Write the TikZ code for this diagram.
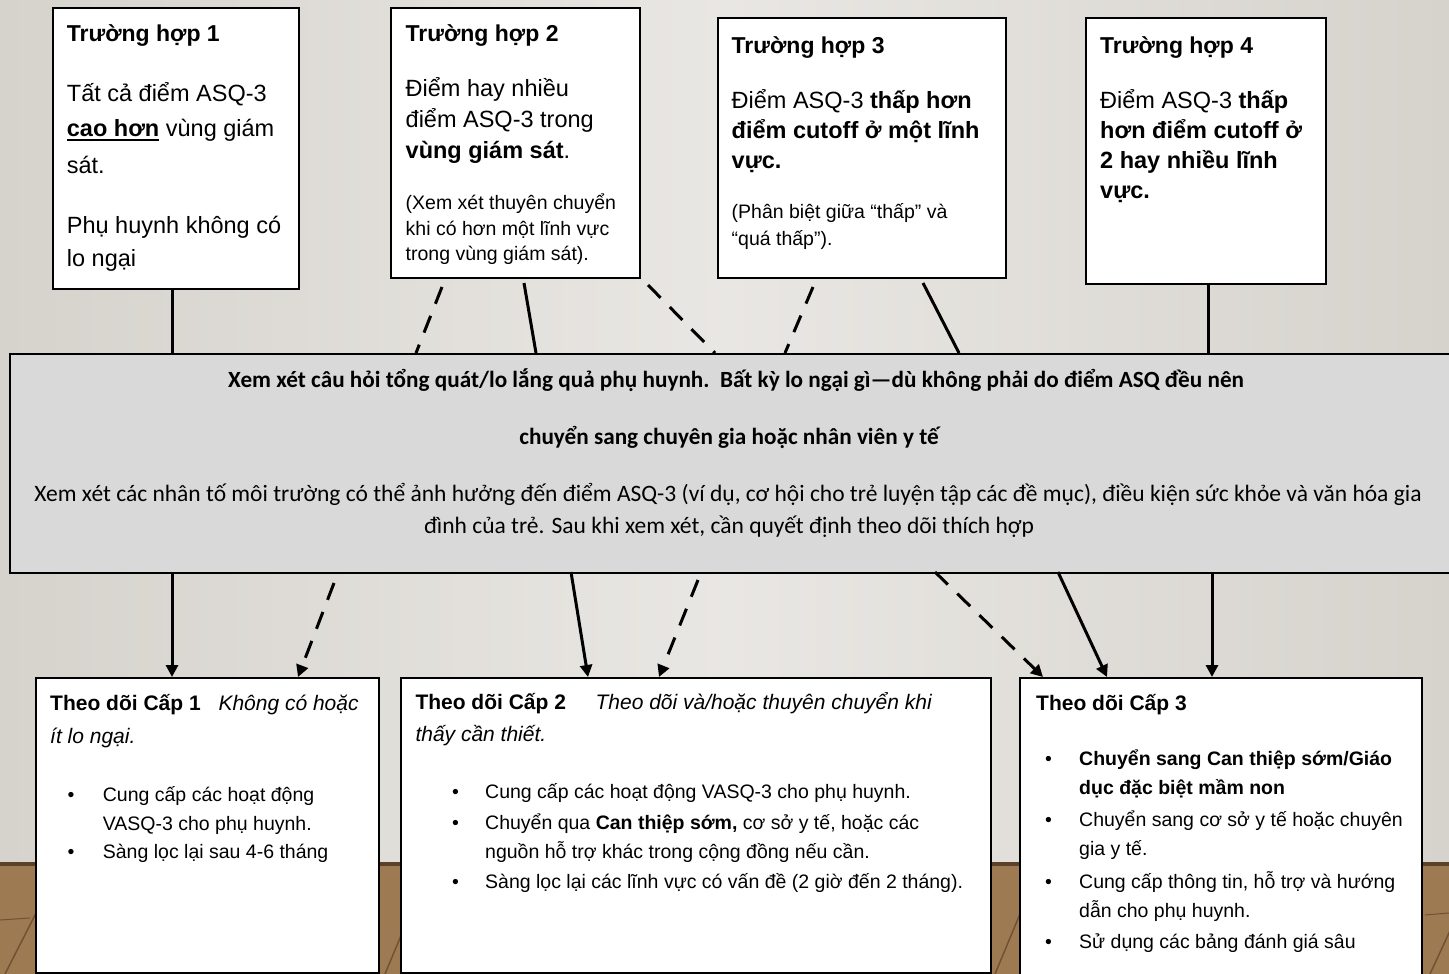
\documentclass[tikz,border=0pt]{standalone}
\usepackage{fontspec}
\setmainfont{Liberation Sans}
\newfontfamily\calibri{Carlito}
\newcommand\myul[1]{\setbox0\hbox{#1}\rlap{\rule[-3.8pt]{\wd0}{1.9pt}}\box0\relax}
\usetikzlibrary{arrows.meta}
\definecolor{wallmid}{RGB}{233,231,227}
\definecolor{walledge}{RGB}{214,211,205}
\definecolor{floorc}{RGB}{158,122,82}
\definecolor{floord}{RGB}{112,82,52}
\definecolor{midgrey}{RGB}{217,217,217}
\tikzset{
  box/.style={draw=black, line width=1.6pt, fill=white, anchor=north west, inner sep=0pt},
  tx/.style={anchor=base west, inner sep=0pt},
  ttl/.style={tx, font=\fontsize{23}{27}\selectfont\bfseries},
  body/.style={tx, font=\fontsize{23.5}{28}\selectfont},
  small/.style={tx, font=\fontsize{19.5}{23}\selectfont},
  lvl/.style={tx, font=\fontsize{21}{25}\selectfont},
  ctr/.style={anchor=base, inner sep=0pt, font=\calibri\fontsize{23.5}{27}\selectfont},
  ctrb/.style={anchor=base, inner sep=0pt, font=\calibri\fontsize{23.2}{27}\selectfont\bfseries},
  solidc/.style={line width=3pt},
  dashc/.style={line width=3pt, dash pattern=on 18pt off 13pt},
  arr/.style={-{Triangle[length=12pt,width=12pt]}}
}
\begin{document}
\begin{tikzpicture}[x=1pt,y=-1pt]
\useasboundingbox (0,0) rectangle (1449,974);
\clip (0,0) rectangle (1449,974);
% background
\shade[left color=walledge, right color=walledge, middle color=wallmid] (0,0) rectangle (1449,863);
\fill[floorc] (0,862) rectangle (1449,974);
\fill[floord!80!black] (0,862) rectangle (1449,866);
\foreach \a/\b in {5/60, 90/150, 385/430, 995/1040, 1430/1480}{
  \draw[floord, line width=1.5pt] (\a,974) -- (\b,866);
}
\draw[floord, line width=1pt] (0,920) -- (30,918);
\draw[floord, line width=1pt] (1425,915) -- (1449,913);

% top boxes
\node[box, minimum width=246pt, minimum height=281pt] (c1) at (52,7) {};
\node[box, minimum width=249pt, minimum height=270pt] (c2) at (390,7) {};
\node[box, minimum width=288pt, minimum height=260pt] (c3) at (717,17) {};
\node[box, minimum width=240pt, minimum height=266pt] (c4) at (1085,17) {};

% central box
\node[box, fill=midgrey, line width=2.4pt, minimum width=1470pt, minimum height=219pt] (mid) at (9,353) {};

% bottom boxes
\node[box, minimum width=343pt, minimum height=295pt] (l1) at (35,677) {};
\node[box, minimum width=590pt, minimum height=295pt] (l2) at (400,677) {};
\node[box, minimum width=402pt, minimum height=320pt] (l3) at (1019,677) {};

% connector end points
\coordinate (a1s) at (172,288); \coordinate (a1e) at (172,353);
\coordinate (a2s) at (442,287); \coordinate (a2e) at (416,353);
\coordinate (a3s) at (524,283); \coordinate (a3e) at (536,353);
\coordinate (a4s) at (648,285); \coordinate (a4e) at (715,353);
\coordinate (a5s) at (813,287); \coordinate (a5e) at (785,353);
\coordinate (a6s) at (923,283); \coordinate (a6e) at (959,353);
\coordinate (a7s) at (1208,283); \coordinate (a7e) at (1208,353);
\draw[solidc] (a1s) -- (a1e);
\draw[dashc] (a2s) -- (a2e);
\draw[solidc] (a3s) -- (a3e);
\draw[dashc] (a4s) -- (a4e);
\draw[dashc] (a5s) -- (a5e);
\draw[solidc] (a6s) -- (a6e);
\draw[solidc] (a7s) -- (a7e);

\coordinate (b1s) at (172,572); \coordinate (b1e) at (172,677);
\coordinate (b2s) at (334,583); \coordinate (b2e) at (298,677);
\coordinate (b3s) at (571,572); \coordinate (b3e) at (588,677);
\coordinate (b4s) at (698,580); \coordinate (b4e) at (659,677);
\coordinate (b5s) at (935,572); \coordinate (b5e) at (1043,677);
\coordinate (b6s) at (1058,572); \coordinate (b6e) at (1107,677);
\coordinate (b7s) at (1212,572); \coordinate (b7e) at (1212,677);
\draw[solidc, arr] (b1s) -- (b1e);
\draw[dashc, arr] (b2s) -- (b2e);
\draw[solidc, arr] (b3s) -- (b3e);
\draw[dashc, arr] (b4s) -- (b4e);
\draw[dashc, arr] (b5s) -- (b5e);
\draw[solidc, arr] (b6s) -- (b6e);
\draw[solidc, arr] (b7s) -- (b7e);

% Case 1 text
\node[ttl] (c1t) at (66.7,41.7) {Trường hợp 1};
\node[body] (c1a) at (66.7,101.7) {Tất cả điểm ASQ-3};
\node[body] (c1b) at (66.7,136.7) {\myul{\textbf{cao hơn}} vùng giám};
\node[body] (c1c) at (66.7,173.3) {sát.};
\node[body] (c1d) at (66.7,233.3) {Phụ huynh không có};
\node[body] (c1e) at (66.7,266.7) {lo ngại};

% Case 2 text
\node[ttl] (c2t) at (405.5,41.7) {Trường hợp 2};
\node[body] (c2a) at (405.5,96.7) {Điểm hay nhiều};
\node[body] (c2b) at (405.5,127.7) {điểm ASQ-3 trong};
\node[body] (c2c) at (405.5,158.3) {\textbf{vùng giám sát}.};
\node[small] (c2d) at (405.5,209.3) {(Xem xét thuyên chuyển};
\node[small] (c2e) at (405.5,235) {khi có hơn một lĩnh vực};
\node[small] (c2f) at (405.5,260) {trong vùng giám sát).};

% Case 3 text
\node[ttl] (c3t) at (731.5,53.3) {Trường hợp 3};
\node[body] (c3a) at (731.5,108.3) {Điểm ASQ-3 \textbf{thấp hơn}};
\node[body] (c3b) at (731.5,138.3) {\textbf{điểm cutoff ở một lĩnh}};
\node[body] (c3c) at (731.5,168.3) {\textbf{vực.}};
\node[small] (c3d) at (731.5,218.3) {(Phân biệt giữa “thấp” và};
\node[small] (c3e) at (731.5,245) {“quá thấp”).};

% Case 4 text
\node[ttl] (c4t) at (1100,53.3) {Trường hợp 4};
\node[body] (c4a) at (1100,108.3) {Điểm ASQ-3 \textbf{thấp}};
\node[body] (c4b) at (1100,138.3) {\textbf{hơn điểm cutoff ở}};
\node[body] (c4c) at (1100,168.3) {\textbf{2 hay nhiều lĩnh}};
\node[body] (c4d) at (1100,198.3) {\textbf{vực.}};

% central text
\node[ctrb] (m1) at (736,387.5) {Xem xét câu hỏi tổng quát/lo lắng quả phụ huynh.\ \ Bất kỳ lo ngại gì—dù không phải do điểm ASQ đều nên};
\node[ctrb] (m2) at (729,444) {chuyển sang chuyên gia hoặc nhân viên y tế};
\node[ctr] (m3) at (728,501) {Xem xét các nhân tố môi trường có thể ảnh hưởng đến điểm ASQ-3 (ví dụ, cơ hội cho trẻ luyện tập các đề mục), điều kiện sức khỏe và văn hóa gia};
\node[ctr] (m4) at (729,533.3) {đình của trẻ. Sau khi xem xét, cần quyết định theo dõi thích hợp};

% Level 1
\node[lvl, font=\fontsize{21}{25}\selectfont\bfseries] (l1t) at (50,710) {Theo dõi Cấp 1};
\node[lvl, font=\fontsize{21}{25}\selectfont\itshape] (l1i) at (218.3,710) {Không có hoặc};
\node[lvl, font=\fontsize{21}{25}\selectfont\itshape] (l1j) at (50,743.3) {ít lo ngại.};
\node[small] (l1a) at (67.5,801.7) {\makebox[35.2pt][l]{•}Cung cấp các hoạt động};
\node[small] (l1b) at (102.7,830) {VASQ-3 cho phụ huynh.};
\node[small] (l1c) at (67.5,858.3) {\makebox[35.2pt][l]{•}Sàng lọc lại sau 4-6 tháng};

% Level 2
\node[lvl, font=\fontsize{21}{25}\selectfont\bfseries] (l2t) at (415.3,709.3) {Theo dõi Cấp 2};
\node[lvl, font=\fontsize{21}{25}\selectfont\itshape] (l2i) at (595.4,709.3) {Theo dõi và/hoặc thuyên chuyển khi};
\node[lvl, font=\fontsize{21}{25}\selectfont\itshape] (l2j) at (415.3,741.7) {thấy cần thiết.};
\node[small] (l2a) at (452,798.3) {\makebox[33pt][l]{•}Cung cấp các hoạt động VASQ-3 cho phụ huynh.};
\node[small] (l2b) at (452,829.3) {\makebox[33pt][l]{•}Chuyển qua \textbf{Can thiệp sớm,} cơ sở y tế, hoặc các};
\node[small] (l2c) at (485,858.3) {nguồn hỗ trợ khác trong cộng đồng nếu cần.};
\node[small] (l2d) at (452,888.3) {\makebox[33pt][l]{•}Sàng lọc lại các lĩnh vực có vấn đề (2 giờ đến 2 tháng).};

% Level 3
\node[lvl, font=\fontsize{21}{25}\selectfont\bfseries] (l3t) at (1036,710) {Theo dõi Cấp 3};
\node[small] (l3a) at (1044.8,765) {\makebox[34.2pt][l]{•}\textbf{Chuyển sang Can thiệp sớm/Giáo}};
\node[small] (l3b) at (1079,794) {\textbf{dục đặc biệt mầm non}};
\node[small] (l3c) at (1044.8,826.7) {\makebox[34.2pt][l]{•}Chuyển sang cơ sở y tế hoặc chuyên};
\node[small] (l3d) at (1079,855) {gia y tế.};
\node[small] (l3e) at (1044.8,888.3) {\makebox[34.2pt][l]{•}Cung cấp thông tin, hỗ trợ và hướng};
\node[small] (l3f) at (1079,917.3) {dẫn cho phụ huynh.};
\node[small] (l3g) at (1044.8,948.3) {\makebox[34.2pt][l]{•}Sử dụng các bảng đánh giá sâu};
\end{tikzpicture}
\end{document}
